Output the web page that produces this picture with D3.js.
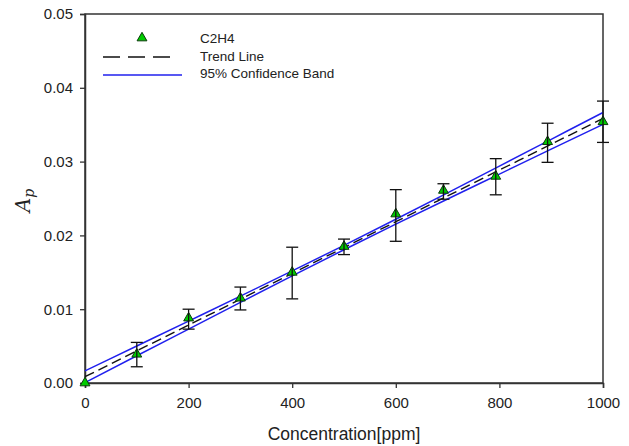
<!DOCTYPE html>
<html><head><meta charset="utf-8">
<script src="https://cdn.jsdelivr.net/npm/d3@7"></script>
<style>body{margin:0;background:#fff;} svg{display:block;font-family:"Liberation Sans",Arial,sans-serif;}</style>
</head><body>
<script>
// Data
const concentration = [0, 100, 200, 300, 400, 500, 600, 692, 793, 893, 1000];
const absorbance    = [0.0000, 0.0039, 0.0088, 0.0115, 0.0150, 0.0185, 0.0229, 0.0261, 0.0280, 0.0327, 0.0354];
const errLow        = [null, 0.0022, 0.0073, 0.0099, 0.0114, 0.0174, 0.0192, 0.0249, 0.0255, 0.0299, 0.0326];
const errHigh       = [null, 0.0055, 0.0100, 0.0130, 0.0184, 0.0195, 0.0262, 0.0270, 0.0304, 0.0352, 0.0382];
const bandX   = [0, 100, 200, 300, 400, 500, 600, 700, 800, 900, 1000];
const trendY  = [0.00085, 0.00435, 0.00785, 0.01135, 0.01485, 0.01835, 0.02185, 0.02535, 0.02885, 0.03235, 0.03585];
const upperY  = [0.00165, 0.00502, 0.00839, 0.01177, 0.01519, 0.01865, 0.02219, 0.02577, 0.02939, 0.03302, 0.03665];
const lowerY  = [0.00005, 0.00369, 0.00731, 0.01093, 0.01452, 0.01805, 0.02152, 0.02493, 0.02831, 0.03169, 0.03505];
const xTicks = [0, 200, 400, 600, 800, 1000];
const yTicks = [0, 0.01, 0.02, 0.03, 0.04, 0.05];
const legendLabels = ["C2H4", "Trend Line", "95% Confidence Band"];

const W = 629, H = 446;
const m = {left: 85, right: 603, top: 14, bottom: 383};
const svg = d3.select("body").append("svg").attr("width", W).attr("height", H);
const x = d3.scaleLinear().domain([0, 1000]).range([m.left, m.right]);
const y = d3.scaleLinear().domain([0, 0.05]).range([m.bottom, m.top]);

const axisColor = "#333";
// frame
svg.append("rect").attr("x", m.left).attr("y", m.top)
  .attr("width", m.right - m.left).attr("height", m.bottom - m.top)
  .attr("fill", "none").attr("stroke", axisColor).attr("stroke-width", 1.5);

const xAxis = svg.append("g").attr("transform", `translate(0,${m.bottom})`)
  .call(d3.axisBottom(x).tickValues(xTicks).tickFormat(d3.format("d")).tickSize(5).tickPadding(9));
const yAxis = svg.append("g").attr("transform", `translate(${m.left},0)`)
  .call(d3.axisLeft(y).tickValues(yTicks).tickFormat(d3.format(".2f")).tickSize(5).tickPadding(7));
[xAxis, yAxis].forEach(g => {
  g.select(".domain").attr("stroke", axisColor).attr("stroke-width", 1.5);
  g.selectAll(".tick line").attr("stroke", axisColor).attr("stroke-width", 1.3);
  g.selectAll(".tick text").attr("fill", "#222").attr("font-size", 15);
});

// axis titles
svg.append("text").attr("x", 344).attr("y", 440)
  .attr("text-anchor", "middle").attr("font-size", 17.5).attr("fill", "#222").text("Concentration[ppm]");
const yl = svg.append("text").attr("transform", `translate(30,${(m.top + m.bottom) / 2 + 2}) rotate(-90)`)
  .attr("text-anchor", "middle").attr("font-size", 20).attr("fill", "#222")
  .attr("font-family", "'DejaVu Serif','Liberation Serif',serif").attr("font-style", "italic");
yl.append("tspan").text("A");
yl.append("tspan").attr("font-size", 14).attr("dy", 4).text("p");

// lines
const band = bandX.map((d, i) => ({x: d, t: trendY[i], u: upperY[i], l: lowerY[i]}));
const line = key => d3.line().x(d => x(d.x)).y(d => y(d[key])).curve(d3.curveMonotoneX);
svg.append("path").datum(band).attr("d", line("u")).attr("fill", "none").attr("stroke", "#2020ee").attr("stroke-width", 1.5);
svg.append("path").datum(band).attr("d", line("l")).attr("fill", "none").attr("stroke", "#2020ee").attr("stroke-width", 1.5);
svg.append("path").datum(band).attr("d", line("t")).attr("fill", "none").attr("stroke", "#111").attr("stroke-width", 1.4).attr("stroke-dasharray", "10,5");

// points
const pts = concentration.map((c, i) => ({x: c, y: absorbance[i], lo: errLow[i], hi: errHigh[i]}));
const tri = d3.symbol().type(d3.symbolTriangle).size(42);
svg.append("g").selectAll("path").data(pts).join("path")
  .attr("transform", d => `translate(${x(d.x)},${y(d.y)})`)
  .attr("d", tri).attr("fill", "#00cc00").attr("stroke", "#0a3a0a").attr("stroke-width", 1);

// error bars
const eb = svg.append("g").attr("stroke", "#111").attr("stroke-width", 1.3);
pts.filter(d => d.lo !== null).forEach(d => {
  const cx = x(d.x);
  eb.append("line").attr("x1", cx).attr("x2", cx).attr("y1", y(d.lo)).attr("y2", y(d.hi));
  eb.append("line").attr("x1", cx - 6).attr("x2", cx + 6).attr("y1", y(d.lo)).attr("y2", y(d.lo));
  eb.append("line").attr("x1", cx - 6).attr("x2", cx + 6).attr("y1", y(d.hi)).attr("y2", y(d.hi));
});

// legend
const lg = svg.append("g");
lg.append("path").attr("transform", "translate(142,38)").attr("d", tri)
  .attr("fill", "#00cc00").attr("stroke", "#0a3a0a").attr("stroke-width", 1);
lg.append("line").attr("x1", 103).attr("x2", 175).attr("y1", 57).attr("y2", 57)
  .attr("stroke", "#111").attr("stroke-width", 1.4).attr("stroke-dasharray", "17,8");
lg.append("line").attr("x1", 103).attr("x2", 182).attr("y1", 75).attr("y2", 75)
  .attr("stroke", "#2020ee").attr("stroke-width", 1.5);
legendLabels.forEach((t, i) => {
  lg.append("text").attr("x", 200).attr("y", 43 + i * 17.5).attr("font-size", 13.5).attr("fill", "#222").text(t);
});
</script>
</body></html>
